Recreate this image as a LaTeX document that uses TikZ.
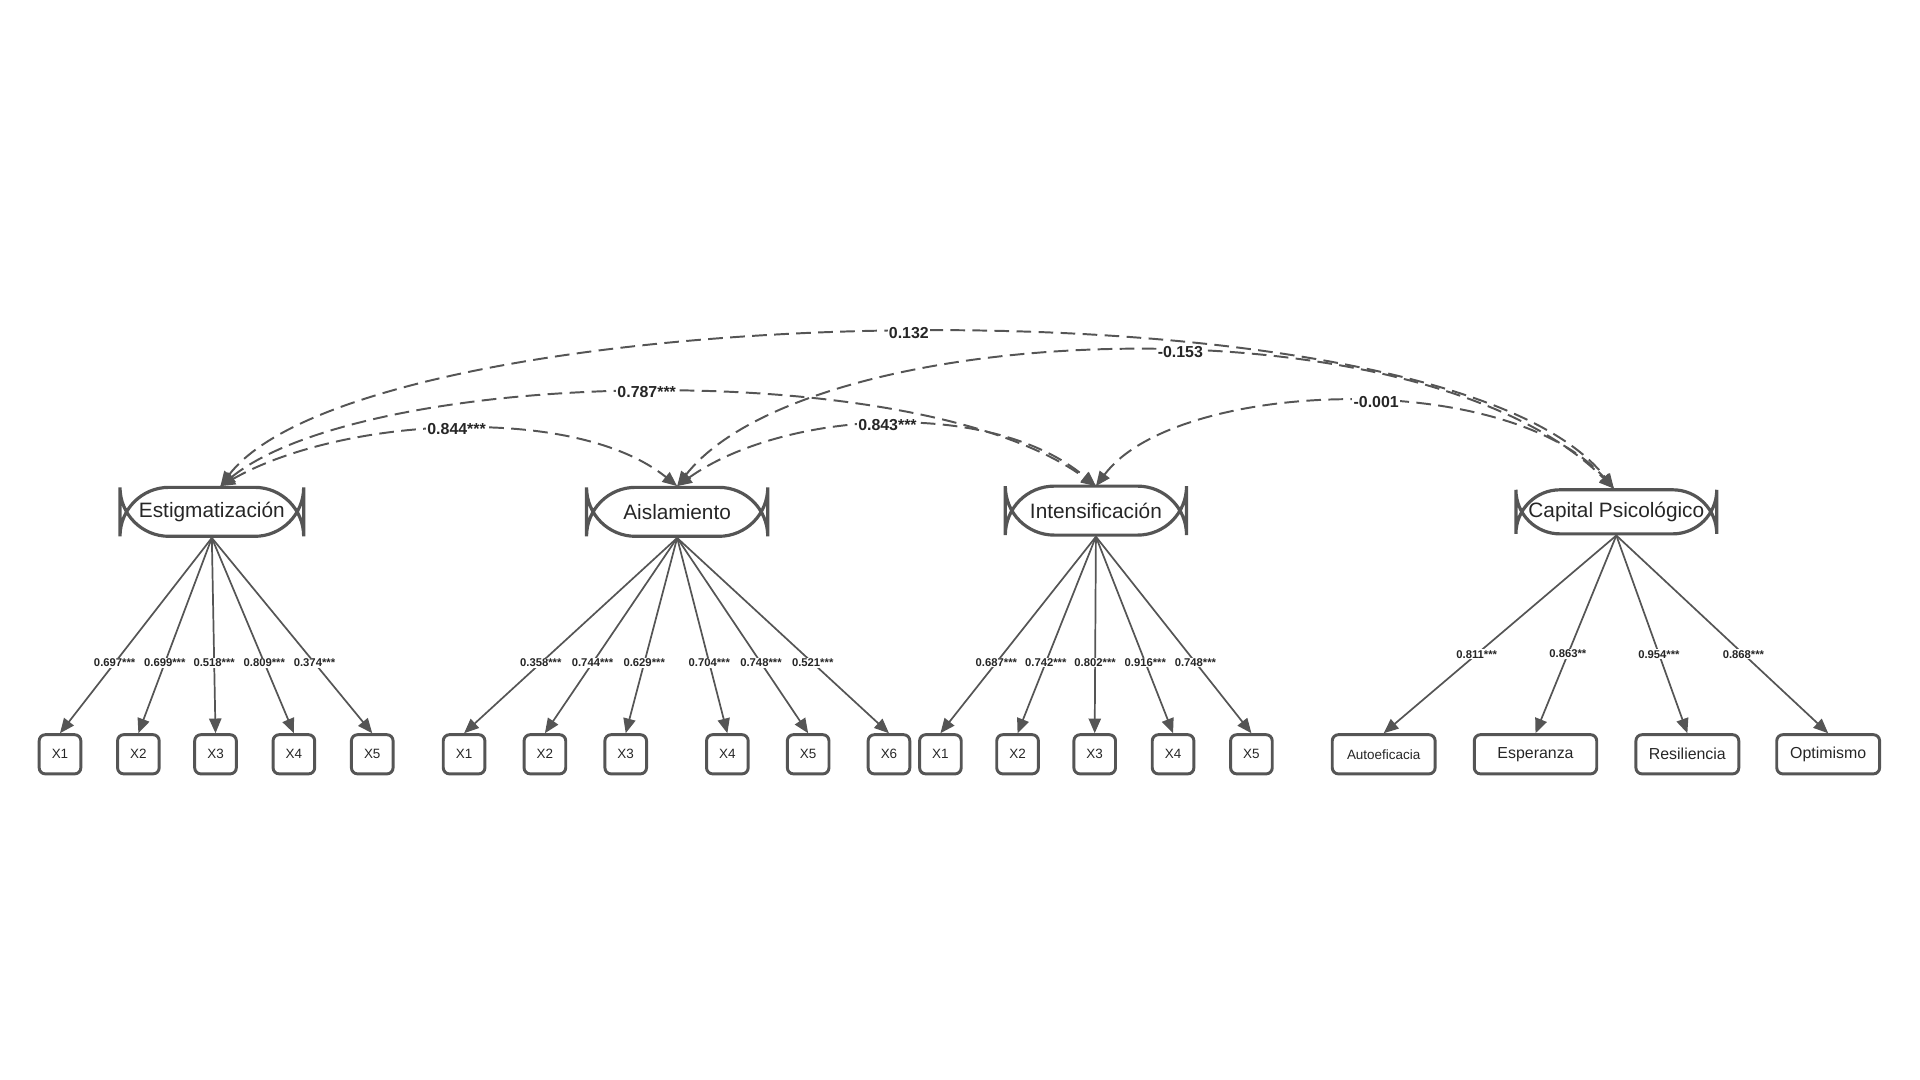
\documentclass[tikz,border=0pt]{standalone}
\usepackage{fontspec}
\setmainfont{Liberation Sans}
\usetikzlibrary{arrows.meta}
\definecolor{ln}{HTML}{555555}
\begin{document}
\begin{tikzpicture}[x=0.5pt,y=-0.5pt,
 lat/.style={draw=ln,line width=1.3pt,rounded corners=20pt,minimum height=20pt,inner sep=0pt,font=\fontsize{8.5}{9}\selectfont,text=black!85},
 ind/.style={draw=ln,line width=1.2pt,rounded corners=2.5pt,minimum height=16pt,inner sep=0pt,font=\fontsize{5.5}{6}\selectfont,text=black!85},
 ld/.style={draw=ln,line width=0.7pt,-{Triangle[length=6pt,width=5pt]}},
 lb/.style={fill=white,inner sep=0.3pt,font=\bfseries\fontsize{4.6}{5}\selectfont,text=black!85},
 cv/.style={draw=ln,line width=0.8pt,dash pattern=on 6pt off 3pt,{Triangle[length=6pt,width=5pt]}-{Triangle[length=6pt,width=5pt]}},
 cl/.style={fill=white,inner sep=0.5pt,font=\bfseries\fontsize{6.5}{7}\selectfont,text=black!85}]
\useasboundingbox (0,0) rectangle (1568,882);
\node[lat,minimum width=75pt] (E) at (173,418) {Estigmatización};
\node[lat,minimum width=74pt] (A) at (553,418) {Aislamiento};
\node[lat,minimum width=74pt] (I) at (895,417) {Intensificación};
\node[lat,minimum width=82pt,minimum height=18pt,rounded corners=18pt] (C) at (1320,418) {Capital Psicológico};
% indicators
\foreach \n/\x in {1/49,2/113,3/176,4/240,5/304}{\node[ind,minimum width=17pt] (e\n) at (\x,616) {X\n};}
\foreach \n/\x in {1/379,2/445,3/511,4/594,5/660,6/726}{\node[ind,minimum width=17pt] (a\n) at (\x,616) {X\n};}
\foreach \n/\x in {1/768,2/831,3/894,4/958,5/1022}{\node[ind,minimum width=17pt] (i\n) at (\x,616) {X\n};}
\node[ind,minimum width=42pt] (c1) at (1130,616) {Autoeficacia};
\node[ind,minimum width=50pt,font=\fontsize{6.5}{7}\selectfont] (c2) at (1254,616) {Esperanza};
\node[ind,minimum width=42pt,font=\fontsize{6.5}{7}\selectfont] (c3) at (1378,616) {Resiliencia};
\node[ind,minimum width=42pt,font=\fontsize{6.5}{7}\selectfont] (c4) at (1493,616) {Optimismo};
% loadings
\foreach \n/\v in {1/0.697***,2/0.699***,3/0.518***,4/0.809***,5/0.374***}{\draw[ld] (E.south) -- node[lb,pos=.64]{\v} (e\n.north);}
\foreach \n/\v in {1/0.358***,2/0.744***,3/0.629***,4/0.704***,5/0.748***,6/0.521***}{\draw[ld] (A.south) -- node[lb,pos=.64]{\v} (a\n.north);}
\foreach \n/\v in {1/0.687***,2/0.742***,3/0.802***,4/0.916***,5/0.748***}{\draw[ld] (I.south) -- node[lb,pos=.64]{\v} (i\n.north);}
\foreach \n/\v in {1/0.811***,2/0.863**,3/0.954***,4/0.868***}{\draw[ld] (C.south) -- node[lb,pos=.6]{\v} (c\n.north);}
% covariances
\coordinate (Et) at (180,397); \coordinate (At) at (553,397);
\coordinate (It) at (895,397); \coordinate (Ct) at (1318,399);
\draw[cv] (Et) .. controls (300,240) and (1180,220) .. node[cl,pos=.5]{0.132} (Ct);
\draw[cv] (At) .. controls (660,260) and (1160,240) .. node[cl,pos=.55]{-0.153} (Ct);
\draw[cv] (Et) .. controls (300,300) and (750,290) .. node[cl,pos=.5]{0.787***} (It);
\draw[cv] (It) .. controls (960,310) and (1230,300) .. node[cl,pos=.55]{-0.001} (Ct);
\draw[cv] (Et) .. controls (280,340) and (470,330) .. node[cl,pos=.5]{0.844***} (At);
\draw[cv] (At) .. controls (640,335) and (810,325) .. node[cl,pos=.5]{0.843***} (It);
\end{tikzpicture}
\end{document}
